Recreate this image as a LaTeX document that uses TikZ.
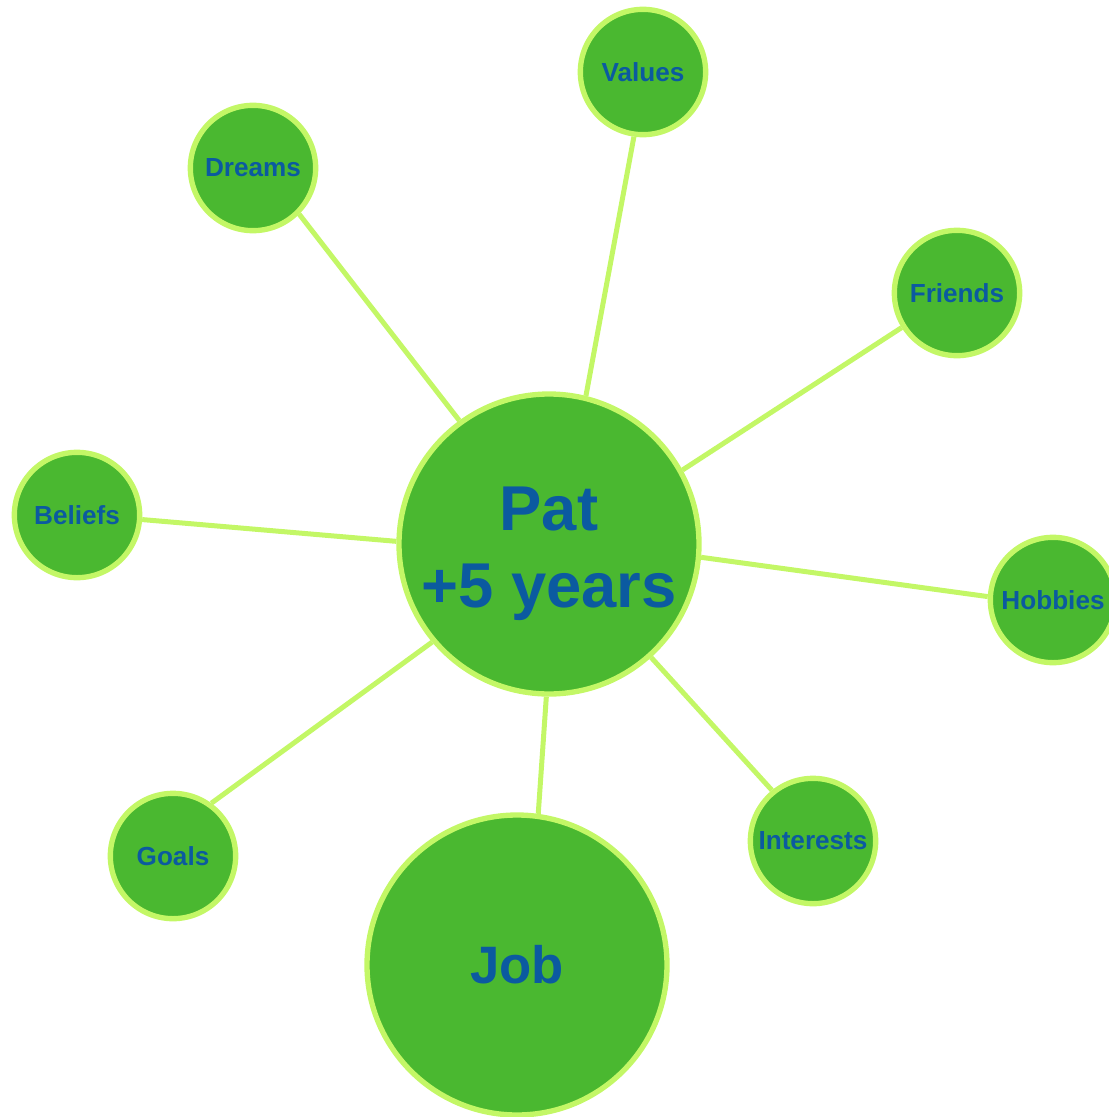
\documentclass[tikz,border=0pt]{standalone}
\usepackage{fontspec}
\setmainfont{Liberation Sans}
\usepackage{xcolor}
\usepackage{tikz}

\definecolor{bubblefill}{RGB}{74,184,48}
\definecolor{bubbleline}{RGB}{195,247,102}
\definecolor{bubbletext}{RGB}{11,90,160}

\tikzset{
  bigbubble/.style={circle, draw=bubbleline, fill=bubblefill, line width=4pt,
    minimum size=225pt, inner sep=0pt, align=center, text=bubbletext,
    font=\fontsize{47.5}{57.5}\selectfont\bfseries},
  smallbubble/.style={circle, draw=bubbleline, fill=bubblefill, line width=4pt,
    minimum size=94pt, inner sep=0pt, text=bubbletext,
    font=\fontsize{19.6}{23}\selectfont\bfseries},
  spoke/.style={draw=bubbleline, line width=3.75pt}
}

\begin{document}
\begin{tikzpicture}[x=0.75pt,y=0.75pt,yscale=-1,xscale=1]
\useasboundingbox (0,0) rectangle (1108,1117);
%Shape: Circle [centre]
\node [bigbubble] (pat) at (549,544) {\rule{0pt}{47pt}Pat\\+5 years};
%Shape: Circle [job]
\node [bigbubble, font=\fontsize{39.5}{47}\selectfont\bfseries] (job) at (517,965) {Job};
%Shape: Circle [outer ring]
\node [smallbubble] (values) at (643,72) {Values};
\node [smallbubble] (dreams) at (253,168) {Dreams};
\node [smallbubble] (friends) at (957,293) {Friends};
\node [smallbubble] (beliefs) at (77,515) {Beliefs};
\node [smallbubble] (hobbies) at (1053,600) {Hobbies};
\node [smallbubble] (interests) at (813,841) {Interests};
\node [smallbubble] (goals) at (173,856) {Goals};
%Straight Lines [spokes]
\foreach \a/\n/\b in {76/values/262, 126/dreams/-45, 29/friends/212, 179/beliefs/-4,
                      -5/hobbies/177, -48/interests/129, 220/goals/54, 269/job/82}
  \draw [spoke] (pat.\a) -- (\n.\b);
\end{tikzpicture}
\end{document}
